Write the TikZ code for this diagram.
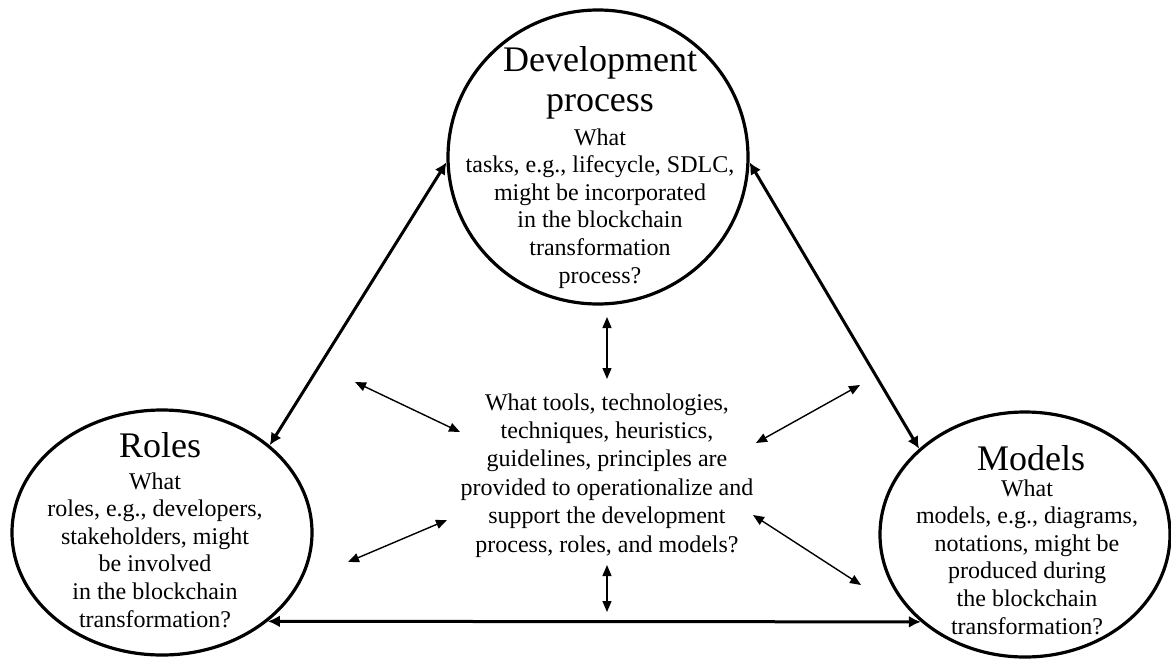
\documentclass[tikz,border=0pt]{standalone}
\usepackage{fontspec}
\setmainfont{Liberation Serif}
\usetikzlibrary{arrows.meta,shapes.geometric,positioning}

\begin{document}
\begin{tikzpicture}[x=0.5pt,y=-0.5pt]
\tikzstyle{area} = [draw,shape=ellipse,line width=1.6pt,inner sep=0pt]
\tikzstyle{title} = [inner sep=0pt,align=center,anchor=base,font=\fontsize{18}{20}\selectfont]
\tikzstyle{question} = [inner sep=0pt,align=center,anchor=base,font=\fontsize{12}{13.8}\selectfont]
\tikzstyle{link} = [line width=1.5pt,{Latex[length=6pt,width=6pt]}-{Latex[length=6pt,width=6pt]}]
\tikzstyle{sublink} = [line width=0.7pt,{Triangle[length=5.5pt,width=4.5pt]}-{Triangle[length=5.5pt,width=4.5pt]}]

\useasboundingbox (0,0) rectangle (1171,658);

% the three areas
\node[area,minimum width=150pt,minimum height=147pt] (dev) at (598,157) {};
\node[area,minimum width=150pt,minimum height=122.5pt] (roles) at (162,532.5) {};
\node[area,minimum width=145pt,minimum height=122.5pt] (models) at (1025,534.5) {};

% base of a multi-line node is its last line
\node[title] (devtitle) at (600,112) {Development\\process};
\node[question] (devtext) at (600,283) {What\\tasks, e.g., lifecycle, SDLC,\\might be incorporated\\in the blockchain\\transformation\\process?};

\node[title] (rolestitle) at (160,457) {Roles};
\node[question] (rolestext) at (155,627) {What\\roles, e.g., developers,\\stakeholders, might\\be involved\\in the blockchain\\transformation?};

\node[title] (modelstitle) at (1031,470) {Models};
\node[question] (modelstext) at (1027,634) {What\\models, e.g., diagrams,\\notations, might be\\produced during\\the blockchain\\transformation?};

% the question in the middle
\node[question,font=\fontsize{12}{14.2}\selectfont] (tools) at (607,552) {What tools, technologies,\\techniques, heuristics,\\guidelines, principles are\\provided to operationalize and\\support the development\\process, roles, and models?};

% links between the areas
\draw[link] (roles.39) -- (dev.182);
\draw[link] (dev.-2) -- (models.141);
\draw[link] (roles.-40) -- (models.220);

% links to the middle
\coordinate (d1) at (607,317);
\coordinate (d2) at (607,379);
\coordinate (r1) at (355,382);
\coordinate (r2) at (460,432);
\coordinate (m1) at (860,385);
\coordinate (m2) at (756,443);
\coordinate (r3) at (348,562);
\coordinate (r4) at (447,520);
\coordinate (m3) at (861,585);
\coordinate (m4) at (753,515);
\coordinate (b1) at (607,565);
\coordinate (b2) at (607,612);

\draw[sublink] (d1) -- (d2);
\draw[sublink] (r1) -- (r2);
\draw[sublink] (m1) -- (m2);
\draw[sublink] (r3) -- (r4);
\draw[sublink] (m3) -- (m4);
\draw[sublink] (b1) -- (b2);

\end{tikzpicture}
\end{document}
